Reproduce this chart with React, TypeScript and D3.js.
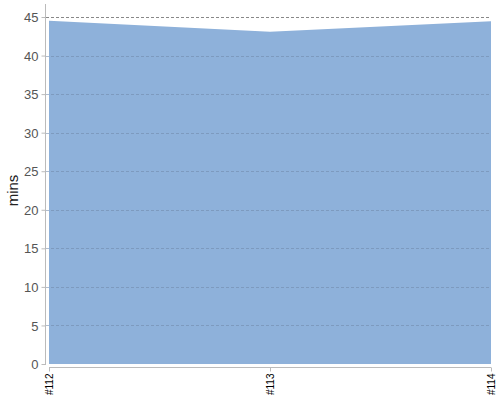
import * as React from 'react';
import * as d3 from 'd3';

const builds = ['#112', '#113', '#114'];
const minutes = [44.5, 43.1, 44.45];
const yTicks = [0, 5, 10, 15, 20, 25, 30, 35, 40, 45];

export default function App() {
  const ref = React.useRef<SVGSVGElement>(null);

  React.useEffect(() => {
    const svg = d3.select(ref.current);
    svg.selectAll('*').remove();
    const left = 49;
    const right = 491;
    const top = 17;
    const bottom = 364;

    const x = d3.scalePoint<string>().domain(builds).range([left, right]);
    const y = d3.scaleLinear().domain([0, 45]).range([bottom, top]);

    // area
    const area = d3
      .area<number>()
      .x((d, i) => x(builds[i]) as number)
      .y0(y(0))
      .y1(d => y(d));
    svg
      .append('path')
      .datum(minutes)
      .attr('fill', '#8eb1da')
      .attr('d', area);

    // grid lines
    svg
      .append('g')
      .selectAll('line')
      .data(yTicks.filter(t => t > 0))
      .join('line')
      .attr('x1', 46)
      .attr('x2', right)
      .attr('y1', d => y(d) + 0.5)
      .attr('y2', d => y(d) + 0.5)
      .attr('stroke', d => (d === 45 ? '#888' : '#6f87a8'))
      .attr('stroke-opacity', d => (d === 45 ? 1 : 0.55))
      .attr('stroke-dasharray', '3,2')
      .attr('shape-rendering', 'crispEdges');

    // y axis
    const yAxis = svg.append('g').attr('transform', 'translate(45.5,0)');
    yAxis
      .append('line')
      .attr('y1', 4)
      .attr('y2', bottom + 1)
      .attr('stroke', '#bbb');
    yAxis
      .selectAll('g')
      .data(yTicks)
      .join('g')
      .attr('transform', d => `translate(0,${y(d) + 0.5})`)
      .call(g => g.append('line').attr('x1', -4).attr('x2', 0).attr('stroke', '#bbb'))
      .call(g =>
        g
          .append('text')
          .attr('x', -7)
          .attr('dy', '0.35em')
          .attr('text-anchor', 'end')
          .attr('fill', '#555')
          .style('font', '13px "Liberation Sans", Arial, sans-serif')
          .text(d => d)
      );

    svg
      .append('text')
      .attr('transform', `translate(18,${(top + bottom) / 2}) rotate(-90)`)
      .attr('text-anchor', 'middle')
      .attr('fill', '#222')
      .style('font', '15px "Liberation Sans", Arial, sans-serif')
      .text('mins');

    // x axis
    const xAxis = svg.append('g').attr('transform', `translate(0,${bottom + 3.5})`);
    xAxis
      .append('line')
      .attr('x1', left)
      .attr('x2', right)
      .attr('stroke', '#bbb');
    xAxis
      .selectAll('g')
      .data(builds)
      .join('g')
      .attr('transform', d => `translate(${(x(d) as number) + 0.5},0)`)
      .call(g => g.append('line').attr('y1', 0).attr('y2', 4).attr('stroke', '#bbb'))
      .call(g =>
        g
          .append('text')
          .attr('transform', 'translate(0,6) rotate(-90)')
          .attr('dy', '0.35em')
          .attr('text-anchor', 'end')
          .attr('fill', '#000')
          .style('font', '10px "Liberation Sans", Arial, sans-serif')
          .text(d => d)
      );
  }, []);

  return (
    <svg
      ref={ref}
      width={500}
      height={400}
      style={{ position: 'absolute', left: 0, top: 0 }}
    />
  );
}
